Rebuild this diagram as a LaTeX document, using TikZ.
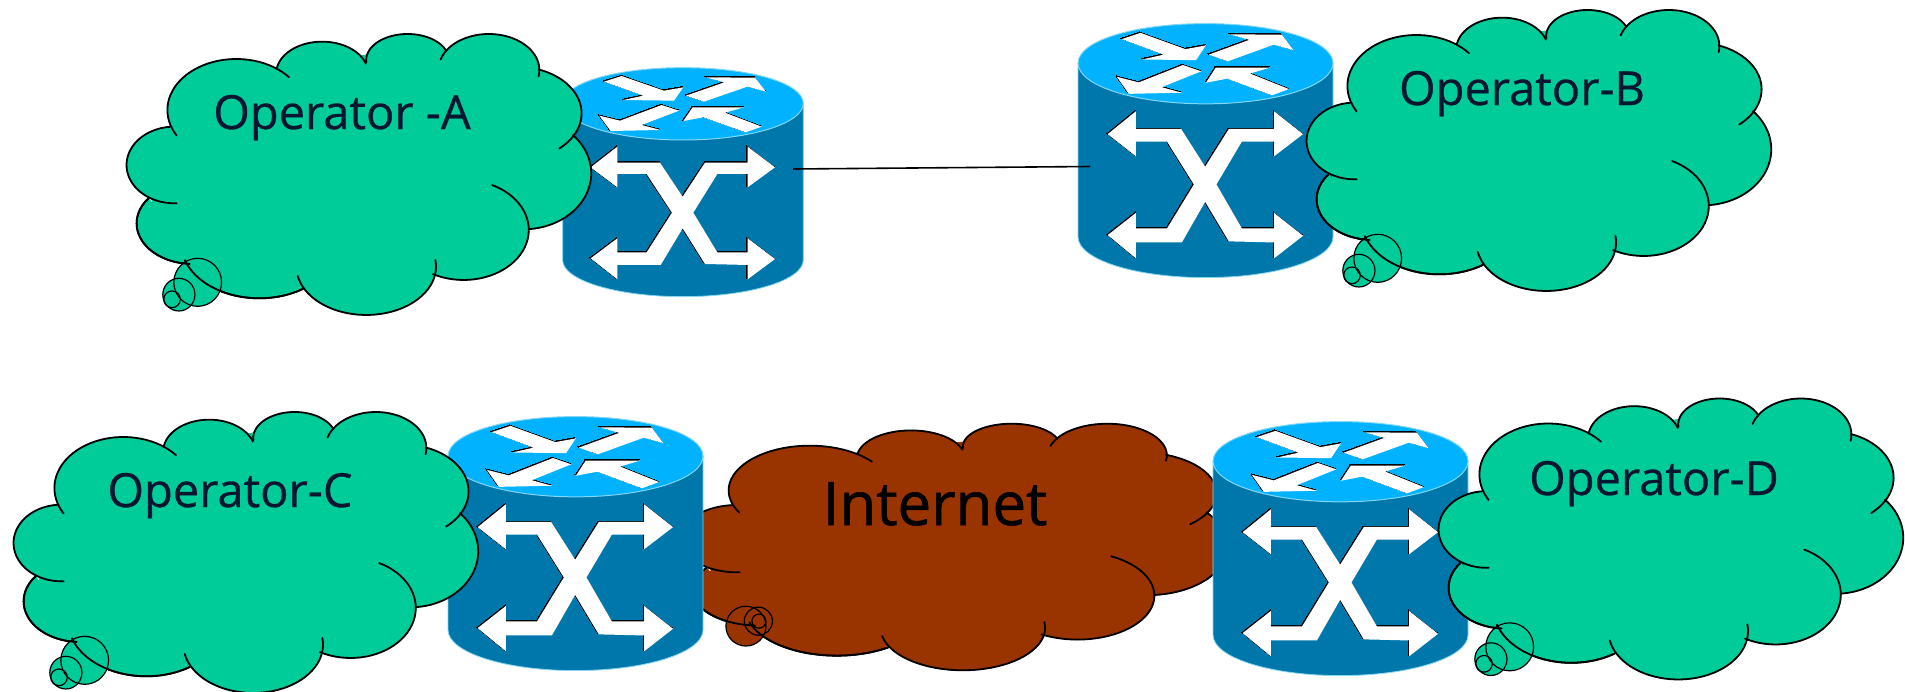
\documentclass[tikz,border=0pt]{standalone}
\usepackage{fontspec}
\setmainfont{Open Sans}
\definecolor{cloudgreen}{RGB}{0,204,153}
\definecolor{cloudbrown}{RGB}{153,51,0}
\definecolor{routerbody}{RGB}{0,119,170}
\definecolor{routertop}{RGB}{0,178,255}
\definecolor{routeredge}{RGB}{130,215,245}
\definecolor{inkblue}{RGB}{8,22,50}
\tikzset{
  cloudline/.style={draw=black,line width=0.9pt,line join=round,line cap=round},
  bubbleline/.style={draw=black,line width=0.6pt},
  opname/.style={anchor=base,text=inkblue,font=\fontsize{23.5}{28}\selectfont\addfontfeature{FakeBold=0.6},inner sep=0pt},
  netname/.style={anchor=base,text=black,font=\fontsize{30}{36}\selectfont\addfontfeature{FakeBold=1},inner sep=0pt},
  linkline/.style={draw=black,line width=0.8pt}
}
% lobes of the cloud as elliptical arcs: cx/cy/rx/ry/from/to, local coordinates
\newcommand{\lobelist}{275/300/150/153/150/320,
  462/190/100/95/188/342,
  648/150/90/78/175/340,
  825/180/110/108/197/370,
  885/310/142/140/290/409,
  900/490/148/168/317/445,
  770/660/142/150/296/478,
  558/770/152/145/-8/169,
  325/700/170/165/56/162,
  180/640/122/122/93/218,
  140/465/104/115/87/265}
\newcommand{\lobeplot}[6]{plot[domain=#5:#6,samples=40] ({#1+#3*cos(\x)},{#2+#4*sin(\x)})}
\newcommand{\lowlobes}{%
  \draw[cloudline] \lobeplot{325}{700}{170}{165}{56}{162};
  \draw[cloudline] \lobeplot{180}{640}{122}{122}{93}{218};}
\newcommand{\cloudfig}[6]{%
  \begin{scope}[shift={(#1,#2)},xscale=#3,yscale=#4]
    \path[fill=#5,draw=#5,line width=0.5pt] (130,352) -- (365,170) -- (560,135) -- (735,122) -- (933,178) -- (1012,370)
      -- (912,658) -- (705,790) -- (425,835) -- (172,760) -- (90,565) -- cycle;
    \path[fill=#5] (180,640) circle [radius=110];
    \foreach \ca/\cb/\ra/\rb/\ta/\tb in \lobelist {
      \path[fill=#5,draw=#5,line width=0.5pt] \lobeplot{\ca}{\cb}{\ra}{\rb}{\ta}{\tb} -- cycle;
    }
    \foreach \ca/\cb/\ra/\rb/\ta/\tb in \lobelist {
      \draw[cloudline] \lobeplot{\ca}{\cb}{\ra}{\rb}{\ta}{\tb};
    }
    #6
  \end{scope}}
% thought bubbles of the green clouds
\newcommand{\greenbubbles}{%
  \fill[cloudgreen] (191,817) circle [x radius=52,y radius=72];
  \fill[cloudgreen] (150,854) circle [x radius=35,y radius=49];
  \fill[cloudgreen] (135,868) circle [x radius=18,y radius=25];
  \lowlobes
  \draw[bubbleline] (191,817) circle [x radius=52,y radius=72];
  \draw[bubbleline] (150,854) circle [x radius=35,y radius=49];
  \draw[bubbleline] (135,868) circle [x radius=18,y radius=25];}
\newcommand{\brownbubbles}{%
  \fill[cloudbrown] (157,764) circle [x radius=37,y radius=68];
  \lowlobes
  \draw[bubbleline] (157,764) circle [x radius=37,y radius=68];
  \draw[bubbleline] (180,747) circle [x radius=26,y radius=48];
  \draw[bubbleline] (181,747) circle [x radius=13,y radius=24];}
% router; local coordinates span x 68..790, y 53..740
\newcommand{\xarrows}{(152,352)(232,290)(232,338)(360,338)(428,440)(495,338)(623,338)(623,290)(705,352)(623,412)(623,372)(532,372)(460,488)(532,607)(623,607)(623,565)(705,627)(623,688)(623,645)(495,642)(428,535)(362,645)(232,645)(232,688)(152,625)(232,565)(232,607)(320,607)(396,488)(320,372)(232,372)(232,412)}
\newcommand{\whitepoly}[1]{%
  \draw[black,fill=black,line width=0pt,shift={(-2.5,-2.5)}] plot[sharp plot] coordinates {#1} -- cycle;
  \fill[white] plot[sharp plot] coordinates {#1} -- cycle;}
\newcommand{\routerfig}[4]{%
  \begin{scope}[shift={(#1,#2)},xscale=#3,yscale=#4]
    \path[fill=routerbody,draw=routeredge,line width=0.4pt]
      (68,160) -- (68,630) .. controls (68,691) and (229,740) .. (429,740)
      .. controls (629,740) and (790,691) .. (790,630) -- (790,160) -- cycle;
    \path[fill=routertop,draw=routeredge,line width=0.5pt]
      (68,160) .. controls (68,99) and (229,53) .. (429,53)
      .. controls (629,53) and (790,99) .. (790,160)
      .. controls (790,221) and (629,270) .. (429,270)
      .. controls (229,270) and (68,221) .. (68,160) -- cycle;
    \whitepoly{(192,95)(245,78)(372,122)(430,112)(402,152)(250,150)(310,137)}
    \whitepoly{(438,137)(553,97)(497,82)(645,83)(678,125)(622,110)(492,155)}
    \whitepoly{(417,182)(365,165)(240,212)(178,197)(212,243)(362,240)(305,225)}
    \whitepoly{(430,213)(458,172)(612,172)(555,188)(665,230)(617,247)(490,202)}
    \whitepoly{\xarrows}
  \end{scope}}
\begin{document}
\begin{tikzpicture}[x=0.5pt,y=-0.5pt]
  \useasboundingbox (0,0) rectangle (1905,691);
  % top row
  \routerfig{540}{50}{0.3333}{0.3333}
  \routerfig{1054}{4}{0.3532}{0.3697}
  \cloudfig{110}{10}{0.4592}{0.3333}{cloudgreen}{\greenbubbles}
  \cloudfig{1290}{-14}{0.4592}{0.3333}{cloudgreen}{\greenbubbles}
  \coordinate (linkA) at (793,169);
  \coordinate (linkB) at (1090,166.5);
  \draw[linkline] (linkA) -- (linkB);
  \node[opname] (opA) at (342,129) {Operator -A};
  \node[opname] (opB) at (1522,105) {Operator-B};
  % bottom row
  \cloudfig{661}{402.65}{0.541}{0.2925}{cloudbrown}{\brownbubbles}
  \node[netname] (net) at (935,525) {Internet};
  \routerfig{424}{397}{0.3532}{0.3697}
  \routerfig{1189}{402}{0.3532}{0.3697}
  \cloudfig{-3}{388}{0.4592}{0.3333}{cloudgreen}{\greenbubbles}
  \cloudfig{1422}{374.5}{0.4592}{0.3333}{cloudgreen}{\greenbubbles}
  \node[opname] (opC) at (230,507) {Operator-C};
  \node[opname] (opD) at (1654,495) {Operator-D};
\end{tikzpicture}
\end{document}
